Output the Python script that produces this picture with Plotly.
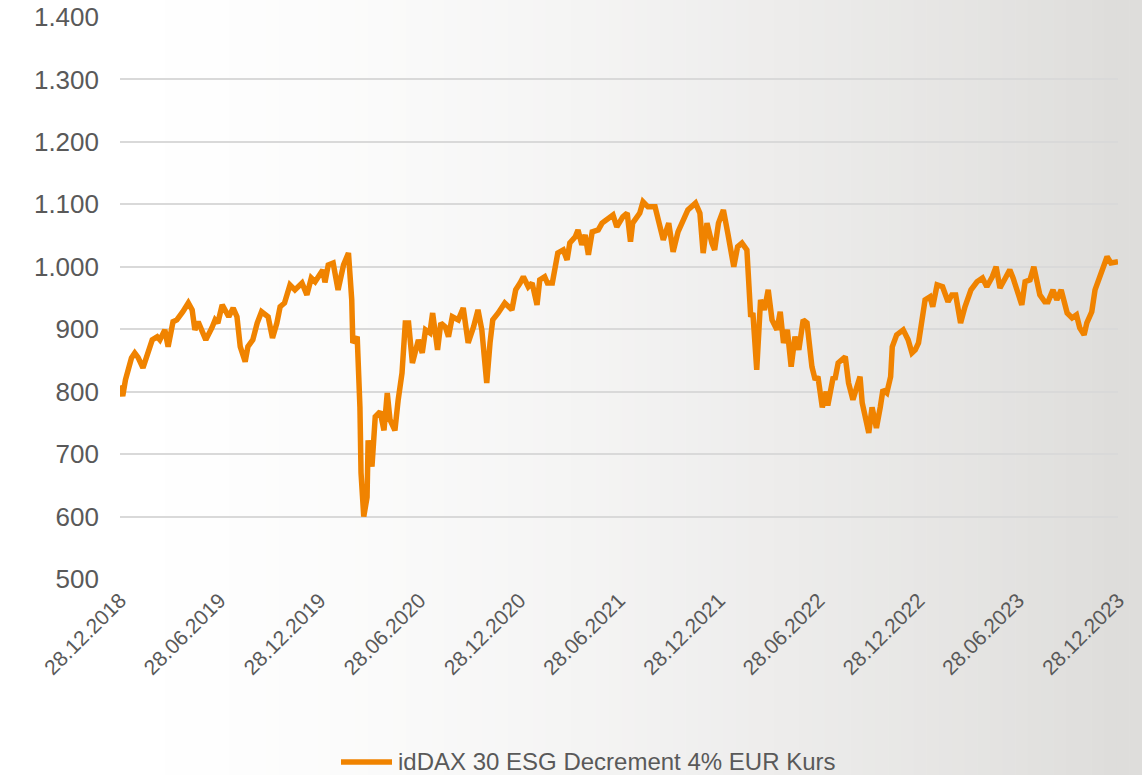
import plotly.graph_objects as go

dates = [
    "2018-12-28", "2019-01-02", "2019-01-07", "2019-01-11", "2019-01-18", "2019-01-24", "2019-01-30",
    "2019-02-08", "2019-02-18", "2019-02-25", "2019-03-06", "2019-03-11", "2019-03-20", "2019-03-26",
    "2019-04-04", "2019-04-11", "2019-04-22", "2019-05-02", "2019-05-09", "2019-05-14", "2019-05-20",
    "2019-06-03", "2019-06-14", "2019-06-20", "2019-06-25", "2019-07-03", "2019-07-15", "2019-07-23",
    "2019-07-30", "2019-08-05", "2019-08-14", "2019-08-19", "2019-08-28", "2019-09-05", "2019-09-13",
    "2019-09-25", "2019-10-03", "2019-10-11", "2019-10-17", "2019-10-25", "2019-11-04", "2019-11-13",
    "2019-11-26", "2019-12-05", "2019-12-13", "2019-12-20", "2020-01-03", "2020-01-07", "2020-01-13",
    "2020-01-22", "2020-01-31", "2020-02-10", "2020-02-19", "2020-02-25", "2020-02-27", "2020-03-06",
    "2020-03-11", "2020-03-13", "2020-03-18", "2020-03-24", "2020-03-26", "2020-04-02", "2020-04-08",
    "2020-04-17", "2020-04-24", "2020-04-30", "2020-05-05", "2020-05-14", "2020-05-20", "2020-05-27",
    "2020-06-02", "2020-06-08", "2020-06-15", "2020-06-22", "2020-06-26", "2020-07-03", "2020-07-09",
    "2020-07-17", "2020-07-22", "2020-07-31", "2020-08-06", "2020-08-14", "2020-08-20", "2020-08-27",
    "2020-09-07", "2020-09-16", "2020-09-25", "2020-10-05", "2020-10-13", "2020-10-20", "2020-10-26",
    "2020-10-29", "2020-11-04", "2020-11-09", "2020-11-19", "2020-12-01", "2020-12-14", "2020-12-21",
    "2020-12-29", "2021-01-04", "2021-01-13", "2021-01-20", "2021-01-29", "2021-02-03", "2021-02-12",
    "2021-02-17", "2021-02-26", "2021-03-08", "2021-03-18", "2021-03-25", "2021-03-30", "2021-04-09",
    "2021-04-14", "2021-04-21", "2021-04-27", "2021-05-03", "2021-05-10", "2021-05-21", "2021-05-28",
    "2021-06-08", "2021-06-17", "2021-06-24", "2021-07-05", "2021-07-13", "2021-07-19", "2021-07-23",
    "2021-08-05", "2021-08-11", "2021-08-20", "2021-09-02", "2021-09-07", "2021-09-17", "2021-09-27",
    "2021-10-05", "2021-10-14", "2021-10-22", "2021-11-01", "2021-11-15", "2021-11-23", "2021-11-29",
    "2021-12-06", "2021-12-15", "2021-12-20", "2021-12-27", "2022-01-05", "2022-01-13", "2022-01-24",
    "2022-01-31", "2022-02-08", "2022-02-17", "2022-02-22", "2022-02-24", "2022-02-28", "2022-03-07",
    "2022-03-14", "2022-03-21", "2022-03-28", "2022-04-04", "2022-04-13", "2022-04-19", "2022-04-25",
    "2022-05-02", "2022-05-09", "2022-05-16", "2022-05-23", "2022-05-31", "2022-06-07", "2022-06-16",
    "2022-06-22", "2022-06-27", "2022-07-05", "2022-07-12", "2022-07-15", "2022-07-25", "2022-07-28",
    "2022-08-03", "2022-08-16", "2022-08-22", "2022-08-30", "2022-09-12", "2022-09-16", "2022-09-21",
    "2022-09-28", "2022-10-04", "2022-10-12", "2022-10-19", "2022-10-24", "2022-10-31", "2022-11-07",
    "2022-11-10", "2022-11-18", "2022-11-30", "2022-12-09", "2022-12-16", "2022-12-22", "2022-12-28",
    "2023-01-03", "2023-01-09", "2023-01-18", "2023-01-23", "2023-01-31", "2023-02-10", "2023-02-20",
    "2023-02-27", "2023-03-06", "2023-03-15", "2023-03-23", "2023-04-03", "2023-04-14", "2023-04-24",
    "2023-05-02", "2023-05-12", "2023-05-19", "2023-05-26", "2023-06-05", "2023-06-13", "2023-06-19",
    "2023-06-26", "2023-07-05", "2023-07-11", "2023-07-20", "2023-07-27", "2023-08-02", "2023-08-07",
    "2023-08-16", "2023-08-22", "2023-08-31", "2023-09-07", "2023-09-15", "2023-09-26", "2023-10-05",
    "2023-10-13", "2023-10-19", "2023-10-27", "2023-11-01", "2023-11-10", "2023-11-16", "2023-11-21",
    "2023-11-29", "2023-12-08", "2023-12-15", "2023-12-28",
]

kurs = [
    810, 793, 819, 830, 854, 862, 855,
    838, 866, 883, 888, 883, 899, 872,
    912, 915, 928, 942, 931, 899, 912,
    883, 902, 915, 910, 939, 920, 934,
    920, 872, 848, 872, 883, 910, 928,
    920, 886, 910, 936, 942, 971, 963,
    974, 955, 982, 976, 995, 975, 1003,
    1006, 963, 1003, 1022, 947, 878, 888,
    775, 670, 600, 631, 722, 680, 760,
    768, 738, 798, 755, 738, 787, 830,
    910, 910, 846, 872, 883, 862, 899,
    894, 926, 867, 910, 904, 888, 920,
    915, 934, 878, 904, 931, 899, 840,
    814, 878, 915, 926, 942, 931, 963,
    974, 984, 968, 974, 939, 979, 984,
    974, 974, 1022, 1027, 1011, 1038, 1048,
    1059, 1035, 1051, 1019, 1056, 1059, 1070,
    1078, 1083, 1064, 1080, 1086, 1040, 1070,
    1086, 1104, 1096, 1096, 1080, 1043, 1070,
    1024, 1056, 1070, 1091, 1102, 1086, 1022,
    1070, 1038, 1027, 1070, 1091, 1054, 1000,
    1032, 1038, 1027, 968, 920, 926, 835,
    947, 931, 963, 915, 899, 928, 878,
    899, 840, 888, 867, 915, 910, 840,
    819, 824, 775, 800, 778, 824, 819,
    846, 856, 814, 787, 824, 782, 760,
    734, 775, 742, 775, 803, 798, 824,
    872, 891, 899, 883, 862, 867, 878,
    920, 947, 952, 936, 971, 968, 944,
    955, 955, 910, 936, 963, 976, 982,
    968, 984, 1000, 966, 982, 995, 982,
    963, 939, 976, 979, 1000, 974, 955,
    944, 944, 963, 947, 963, 926, 918,
    923, 902, 891, 910, 928, 963, 976,
    992, 1016, 1006, 1008,
]

tick_dates = [
    "2018-12-28", "2019-06-28", "2019-12-28", "2020-06-28", "2020-12-28", "2021-06-28",
    "2021-12-28", "2022-06-28", "2022-12-28", "2023-06-28", "2023-12-28",
]
series_name = "idDAX 30 ESG Decrement 4% EUR Kurs"

W, H = 1142, 775
ML, MR, MT, MB = 120, 24, 17, 196
pw, ph = W - ML - MR, H - MT - MB
ORANGE = "#F08300"
GREY = "#595959"
font = "Liberation Sans, Arial, sans-serif"


def px_x(px):
    return (px - ML) / pw


def px_y(py):
    return (H - MB - py) / ph


# background gradient (white on the left to light grey on the right)
shapes = []
n = 90
for i in range(n):
    px0 = W * i / n
    px1 = W * (i + 1) / n + 0.6
    xc = (px0 + px1) / 2
    t = min(max((xc - 100) / 1020, 0), 1) ** 1.5
    r = round(255 - t * (255 - 222))
    g = round(255 - t * (255 - 221))
    b = round(255 - t * (255 - 219))
    shapes.append(dict(
        type="rect", xref="paper", yref="paper", layer="below",
        x0=px_x(px0), x1=px_x(px1), y0=px_y(H + 2), y1=px_y(-2),
        fillcolor=f"rgb({r},{g},{b})", line=dict(width=0),
    ))

# legend sample line (drawn manually so its length matches)
shapes.append(dict(
    type="line", xref="paper", yref="paper",
    x0=px_x(341), x1=px_x(392), y0=px_y(762), y1=px_y(762),
    line=dict(color=ORANGE, width=5.5),
))

fig = go.Figure()
fig.add_trace(go.Scatter(
    x=dates, y=kurs, mode="lines", name=series_name,
    line=dict(color=ORANGE, width=5.5), showlegend=False,
))

fig.update_layout(
    width=W, height=H,
    margin=dict(l=ML, r=MR, t=MT, b=MB, autoexpand=False),
    paper_bgcolor="white", plot_bgcolor="rgba(0,0,0,0)",
    separators=",.",
    shapes=shapes,
    showlegend=False,
    font=dict(family=font, color=GREY),
    annotations=[dict(
        text=series_name, xref="paper", yref="paper",
        x=px_x(396), y=px_y(761), xanchor="left", yanchor="middle",
        showarrow=False, font=dict(family=font, size=24, color=GREY),
    )],
)
fig.update_yaxes(
    range=[500, 1400], dtick=100, tickformat=",d",
    showgrid=True, gridcolor="#d9d9d9", gridwidth=2,
    zeroline=False, showline=False, ticks="",
    tickfont=dict(family=font, size=26, color=GREY),
    ticklabelstandoff=20,
)
fig.update_xaxes(
    type="date", range=["2018-12-28", "2023-12-28"],
    tickvals=tick_dates, tickformat="%d.%m.%Y", tickangle=-45,
    showgrid=False, zeroline=False, showline=False, ticks="",
    tickfont=dict(family=font, size=21, color=GREY),
    ticklabelstandoff=4,
)

fig.write_html(
    "out.html",
    config={"displayModeBar": False},
    post_script="document.body.style.margin='0';document.body.style.overflow='hidden';",
)
